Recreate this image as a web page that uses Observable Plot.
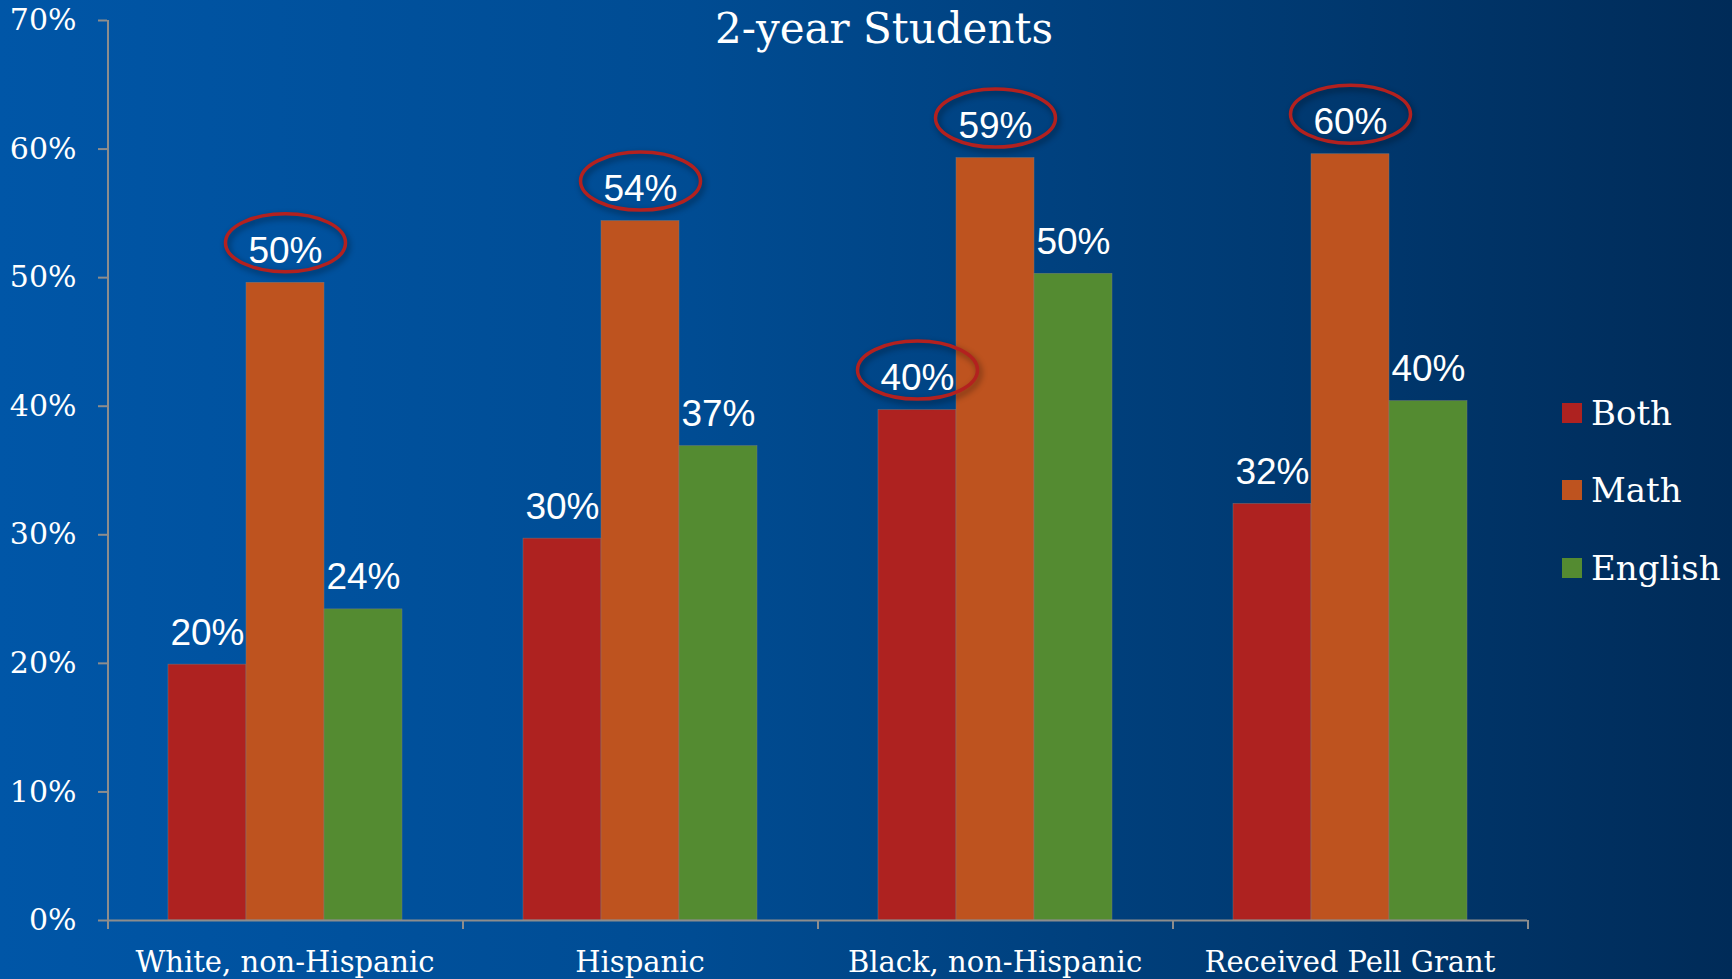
<!DOCTYPE html>
<html><head><meta charset="utf-8">
<script src="https://cdn.jsdelivr.net/npm/d3@7"></script>
<script src="https://cdn.jsdelivr.net/npm/@observablehq/plot@0.6"></script>
<style>
html,body{margin:0;padding:0;}
body{width:1732px;height:979px;overflow:hidden;background:linear-gradient(to right,#0056a7 0%,#004c93 40%,#003b74 72%,#002b58 100%);}
#wrap{position:relative;width:1732px;height:979px;}
#chart{position:absolute;left:0;top:0;}
#title{position:absolute;left:484px;width:800px;top:8px;text-align:center;color:#fff;font-family:"DejaVu Serif";font-size:42px;line-height:42px;}
#legend{position:absolute;left:1562px;top:0;font-family:"DejaVu Serif";color:#fff;font-size:34px;}
.lg{position:absolute;left:0;white-space:nowrap;display:flex;align-items:center;height:40px;}
.sw{width:20px;height:20px;margin-right:9px;}
g[aria-label="dot"] path{filter:drop-shadow(2px 3px 3px rgba(0,0,0,0.45));}
</style>
</head><body>
<div id="wrap"><div id="chart"></div><div id="title"></div><div id="legend"></div></div>
<script>
const categories = ["White, non-Hispanic", "Hispanic", "Black, non-Hispanic", "Received Pell Grant"];
const series = ["Both", "Math", "English"];
const bothValues = [0.199, 0.297, 0.397, 0.324];
const mathValues = [0.496, 0.544, 0.593, 0.596];
const englishValues = [0.242, 0.369, 0.503, 0.404];
const bothCircled = [false, false, true, false];
const mathCircled = [true, true, true, true];
const englishCircled = [false, false, false, false];
const seriesColors = ["#ae2220", "#be531f", "#548b31"];
const yTicks = [0, 0.1, 0.2, 0.3, 0.4, 0.5, 0.6, 0.7];
const titleText = "2-year Students";

const valuesBySeries = [bothValues, mathValues, englishValues];
const circledBySeries = [bothCircled, mathCircled, englishCircled];
const rows = [];
series.forEach((s, j) => categories.forEach((c, i) => rows.push({category: c, series: s, value: valuesBySeries[j][i], circled: circledBySeries[j][i]})));

const W = 1732, H = 979, mL = 107, mR = 205, mT = 20, mB = 59;
const facetW = (W - mL - mR) / categories.length;
const pct = d3.format(".0%");

const ellipse = {draw(ctx) {
  const rx = 60, ry = 29, k = 0.5523;
  ctx.moveTo(rx, 0);
  ctx.bezierCurveTo(rx, ry * k, rx * k, ry, 0, ry);
  ctx.bezierCurveTo(-rx * k, ry, -rx, ry * k, -rx, 0);
  ctx.bezierCurveTo(-rx, -ry * k, -rx * k, -ry, 0, -ry);
  ctx.bezierCurveTo(rx * k, -ry, rx, -ry * k, rx, 0);
  ctx.closePath();
}};

const axisGray = "#8d8d8d";
const chart = Plot.plot({
  width: W, height: H, marginTop: mT, marginBottom: mB, marginLeft: mL, marginRight: mR,
  style: {background: "transparent", overflow: "visible", fontFamily: "DejaVu Serif", color: "white"},
  fx: {domain: categories, padding: 0, label: null},
  x: {domain: series, paddingInner: 0, paddingOuter: 0.755, axis: null},
  y: {domain: [0, 0.7], label: null},
  color: {domain: series, range: seriesColors},
  marks: [
    Plot.barY(rows, {fx: "category", x: "series", y: "value", fill: "series", stroke: "#7f7f7f", strokeWidth: 0.6, strokeOpacity: 0.7}),
    Plot.ruleY([0], {stroke: axisGray, strokeWidth: 2}),
    Plot.ruleX(categories.slice(0, 1), {fx: d => d, x: () => "Math", dx: -facetW / 2, stroke: axisGray, strokeWidth: 2, insetBottom: -9}),
    Plot.ruleX(categories.slice(1), {fx: d => d, x: () => "Math", dx: -facetW / 2, y1: 0, y2: 0, stroke: axisGray, strokeWidth: 2, insetBottom: -9}),
    Plot.ruleX(categories.slice(-1), {fx: d => d, x: () => "Math", dx: facetW / 2, y1: 0, y2: 0, stroke: axisGray, strokeWidth: 2, insetBottom: -9}),
    Plot.axisY(yTicks, {tickFormat: pct, tickSize: 9, tickPadding: 22, fontSize: 30, fontFamily: "DejaVu Serif", fill: "white", stroke: axisGray, strokeWidth: 2, label: null}),
    Plot.axisFx({anchor: "bottom", tickSize: 0, tickPadding: 31, fontSize: 29, fontFamily: "DejaVu Serif", fill: "white", label: null}),
    Plot.text(rows, {fx: "category", x: "series", y: "value", text: d => pct(d.value), dy: -20, lineAnchor: "bottom", fill: "white", fontSize: 37, fontFamily: "Liberation Sans"}),
    Plot.dot(rows.filter(d => d.circled), {fx: "category", x: "series", y: "value", dy: -40, r: 5, symbol: ellipse, fill: "none", stroke: "#b3211f", strokeWidth: 3.5})
  ]
});
document.getElementById("chart").appendChild(chart);
document.getElementById("title").textContent = titleText;

const legend = document.getElementById("legend");
const legendTops = [393, 470, 548];
series.forEach((s, j) => {
  const row = document.createElement("div");
  row.className = "lg";
  row.style.top = legendTops[j] + "px";
  const sw = document.createElement("div");
  sw.className = "sw";
  sw.style.background = seriesColors[j];
  const t = document.createElement("span");
  t.textContent = s;
  row.appendChild(sw); row.appendChild(t);
  legend.appendChild(row);
});
</script>
</body></html>
